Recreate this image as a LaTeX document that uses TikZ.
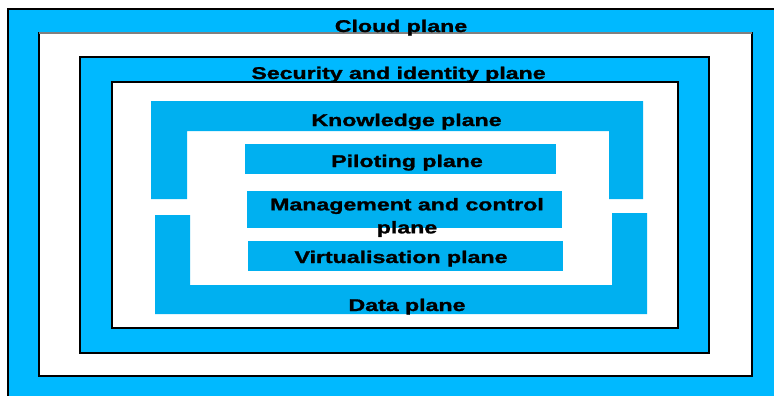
\documentclass[tikz,border=0pt]{standalone}
\usepackage{graphicx}
\usepackage{fontspec}
\setmainfont{Liberation Sans}[BoldFeatures={FakeBold=1.2}]
\definecolor{outerblue}{HTML}{00B9FF}
\definecolor{innerblue}{HTML}{00B0F0}
\begin{document}
\begin{tikzpicture}[x=1pt,y=-1pt,
  lbl/.style={font=\fontsize{17}{23}\selectfont\bfseries, inner sep=0pt, text=black},
  planebox/.style={fill=innerblue},
  frame/.style={draw=black, line width=1.2pt}]
\useasboundingbox (0,0) rectangle (774,396);
\clip (0,0) rectangle (774,396);
% Cloud plane
\filldraw[fill=outerblue, frame] (8,9) rectangle (790,410);
\filldraw[fill=white, frame] (39,33) rectangle (752,376);
\draw[gray, line width=1.2pt] (39,33) -- (752,33);
% Security and identity plane
\filldraw[fill=outerblue, frame] (80,57) rectangle (709,353);
\filldraw[fill=white, frame] (112,82) rectangle (678,328);
% Knowledge plane
\fill[planebox] (151,101) -- (643,101) -- (643,199) -- (609,199) -- (609,131) -- (187,131) -- (187,199) -- (151,199) -- cycle;
% Data plane
\fill[planebox] (155,215) -- (190,215) -- (190,285) -- (612,285) -- (612,213) -- (647,213) -- (647,314) -- (155,314) -- cycle;
% inner boxes
\fill[planebox] (245,144) rectangle (556,174);
\fill[planebox] (247,191) rectangle (562,228);
\fill[planebox] (248,241) rectangle (563,271);
% labels
\node[lbl, anchor=base] (cloud) at (401,32) {\scalebox{1.36}[1]{Cloud plane}};
\node[lbl, anchor=base] (sec) at (398.5,79) {\scalebox{1.36}[1]{Security and identity plane}};
\node[lbl, anchor=base] (know) at (406.5,126) {\scalebox{1.36}[1]{Knowledge plane}};
\node[lbl, anchor=base] (pilot) at (407,167) {\scalebox{1.36}[1]{Piloting plane}};
\node[lbl, align=center] (mgmt) at (407,217.5) {\scalebox{1.36}[1]{Management and control}\\\scalebox{1.36}[1]{plane}};
\node[lbl, anchor=base] (virt) at (401,263) {\scalebox{1.36}[1]{Virtualisation plane}};
\node[lbl, anchor=base] (data) at (407,311) {\scalebox{1.36}[1]{Data plane}};
\end{tikzpicture}
\end{document}
